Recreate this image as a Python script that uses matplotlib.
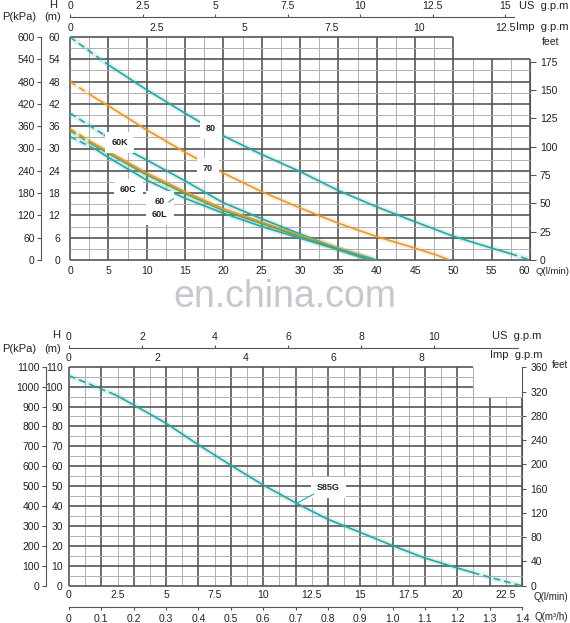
import numpy as np
import matplotlib.pyplot as plt

plt.rcParams['font.family'] = ['Liberation Sans', 'DejaVu Sans']
plt.rcParams['font.size'] = 7.5
plt.rcParams['text.color'] = '#222222'
plt.rcParams['xtick.color'] = '#222222'
plt.rcParams['ytick.color'] = '#222222'

# ---- upper chart: Q in l/min, H in m
q_80 = [0, 5, 10, 15, 20, 25, 30, 35, 40, 45, 50, 55, 57.5, 60]
h_80 = [60, 52.5, 45.8, 39.5, 33.4, 28.4, 23.8, 18.7, 14.3, 10.3, 6.4, 3.2, 1.7, 0]

q_70 = [0, 3, 5, 10, 15, 20, 25, 30, 35, 40, 45, 48, 49.5]
h_70 = [48, 44, 41.5, 35, 29, 23.4, 18.4, 14, 9.9, 6.3, 3.2, 1.2, 0]

q_60k = [0, 4.5, 7.5, 10, 15, 20, 25, 30, 35, 40]
h_60k = [39.5, 33.6, 29.6, 26.9, 21.3, 15.4, 11.1, 7.0, 3.0, 0]

q_60 = [0, 3, 5, 10, 15, 20, 25, 30, 35, 39.5]
h_60 = [35.3, 31.5, 29.2, 23.4, 18.4, 13.8, 10.2, 6.6, 3.2, 0]

q_60l = [0, 3, 5, 10, 15, 20, 25, 30, 35, 39.5]
h_60l = [34.8, 31.0, 28.7, 22.9, 17.9, 13.3, 9.8, 6.3, 3.0, 0]

q_60c = [0, 3.5, 5, 10, 15, 20, 25, 30, 35, 39]
h_60c = [33.2, 29.6, 27.6, 21.5, 16.6, 12.6, 9.0, 5.9, 2.8, 0]

us_ticks_1 = [0, 2.5, 5, 7.5, 10, 12.5, 15]
imp_ticks_1 = [0, 2.5, 5, 7.5, 10, 12.5]
feet_ticks_1 = [0, 25, 50, 75, 100, 125, 150, 175]

# ---- lower chart: S85G
q_s85g = [0, 2.4, 3.3, 5, 6.6, 8.3, 10, 11.7, 13.3, 15, 16.7, 18.3, 20, 20.8, 21.6, 23.3]
h_s85g = [105.5, 95.8, 91, 81.6, 71.2, 60.7, 50.6, 41.5, 33.5, 26.8, 20.0, 14.0, 8.9, 6.6, 4.4, 0]

us_ticks_2 = [0, 2, 4, 6, 8, 10]
imp_ticks_2 = [0, 2, 4, 6, 8]
feet_ticks_2 = [0, 40, 80, 120, 160, 200, 240, 280, 320, 360]
m3h_ticks = [0, 0.1, 0.2, 0.3, 0.4, 0.5, 0.6, 0.7, 0.8, 0.9, 1.0, 1.1, 1.2, 1.3, 1.4]

TEAL = '#2aa7a4'
ORANGE = '#e69a2e'
GREEN = '#64a35a'
DARK = '#555555'
LIGHT = '#b0b0b0'

W, H = 570, 623


def px(x, y):
    return x / W, 1 - y / H


def draw_grid(ax, xs, ys, xmax, ymax, blank_x, blank_y):
    for i, x in enumerate(xs):
        top = blank_y if x > blank_x + 1e-6 else ymax
        dark = i % 2 == 0
        ax.vlines(x, 0, top, color=DARK if dark else LIGHT, lw=1.2 if dark else 0.7,
                  zorder=1, clip_on=False)
    for j, y in enumerate(ys):
        right = blank_x if y > blank_y + 1e-6 else xmax
        dark = j % 2 == 0
        ax.hlines(y, 0, right, color=DARK if dark else LIGHT, lw=1.2 if dark else 0.7,
                  zorder=1, clip_on=False)


def plot_curve(ax, q, h, color, i0, i1):
    # dashed at both ends, solid between index i0 and i1
    ax.plot(q, h, color=color, lw=4, alpha=0.15, zorder=2, solid_capstyle='butt')
    ax.plot(q[:i0 + 1], h[:i0 + 1], color=color, lw=1.2, ls=(0, (4, 2.5)), zorder=2.2)
    ax.plot(q[i0:i1 + 1], h[i0:i1 + 1], color=color, lw=1.2, zorder=2.2)
    if i1 < len(q) - 1:
        ax.plot(q[i1:], h[i1:], color=color, lw=1.2, ls=(0, (4, 2.5)), zorder=2.2)


fig = plt.figure(figsize=(W / 100, H / 100), dpi=100)

# =================== upper chart ===================
ax1 = fig.add_axes([70 / W, 1 - 260 / H, 460 / W, 223 / H])
ax1.set_xlim(0, 60)
ax1.set_ylim(0, 60)
for s in ax1.spines.values():
    s.set_visible(False)
draw_grid(ax1, np.arange(0, 60.01, 2.5), np.arange(0, 60.01, 3), 60, 60, 50, 54)

plot_curve(ax1, q_80, h_80, TEAL, 1, 12)
plot_curve(ax1, q_70, h_70, ORANGE, 1, len(q_70) - 1)
plot_curve(ax1, q_60k, h_60k, TEAL, 1, len(q_60k) - 1)
plot_curve(ax1, q_60, h_60, ORANGE, 1, len(q_60) - 1)
plot_curve(ax1, q_60l, h_60l, GREEN, 1, len(q_60l) - 1)
plot_curve(ax1, q_60c, h_60c, TEAL, 1, len(q_60c) - 1)

lbl = dict(fontsize=6.5, fontweight='bold', ha='center', va='center', zorder=4,
           bbox=dict(fc='white', ec='none', pad=4.5))
ax1.text(18.4, 35.5, '80', **lbl)
ax1.text(18.0, 24.5, '70', **lbl)
ax1.text(6.5, 31.6, '60K', **lbl)
ax1.text(7.6, 19.0, '60C', **lbl)
ax1.text(11.7, 14.0, '60\n60L', linespacing=1.5, **lbl)
ax1.plot([12.9, 13.5], [15.6, 16.5], color=TEAL, lw=0.8, zorder=5)

ax1.set_xticks(range(0, 61, 5))
ax1.set_yticks(range(0, 61, 6))
ax1.tick_params(axis='x', length=0, pad=4)
ax1.tick_params(axis='y', length=0, pad=7)
ax1.get_xticklabels()[-1].set_ha('right')

kpa1 = ax1.secondary_yaxis(-0.063, functions=(lambda h: h * 10, lambda p: p / 10))
kpa1.set_yticks(range(0, 601, 60))
kpa1.tick_params(length=3, pad=1.5, color=DARK)
kpa1.spines['left'].set_color(DARK)

ft1 = ax1.secondary_yaxis('right', functions=(lambda h: h * 3.281, lambda f: f / 3.281))
ft1.set_yticks(feet_ticks_1)
ft1.tick_params(length=4, pad=3, color=DARK)
ft1.spines['right'].set_color(DARK)
ft1.spines['right'].set_bounds(0, 175)

imp1 = ax1.secondary_xaxis(1.0, functions=(lambda q: q / 4.546, lambda g: g * 4.546))
imp1.set_xticks(imp_ticks_1)
imp1.set_xticklabels(['0', '2.5', '5', '7.5', '10', '12.5'])
imp1.spines['top'].set_visible(False)
imp1.tick_params(length=0, pad=3)

us1 = ax1.secondary_xaxis(1.09, functions=(lambda q: q / 3.785, lambda g: g * 3.785))
us1.set_xticks(us_ticks_1)
us1.set_xticklabels(['0', '2.5', '5', '7.5', '10', '12.5', '15'])
us1.spines['top'].set_color(DARK)
us1.spines['top'].set_bounds(0, 15.3)
us1.tick_params(length=2.5, pad=2, color=DARK)

fig.text(*px(2, 17), 'P(kPa)', fontsize=8, ha='left', va='center')
fig.text(*px(53, 5), 'H', fontsize=8, ha='center', va='center')
fig.text(*px(53, 17), '(m)', fontsize=8, ha='center', va='center')
fig.text(*px(568, 6), 'US  g.p.m', fontsize=8, ha='right', va='center')
fig.text(*px(568, 27), 'Imp  g.p.m', fontsize=8, ha='right', va='center')
fig.text(*px(542, 42), 'feet', fontsize=7.5, ha='left', va='center')
fig.text(*px(569, 271), 'Q(l/min)', fontsize=6.8, ha='right', va='center')

# watermark
fig.text(*px(285, 297), 'en.china.com', fontsize=27, color='#c5c8cc', ha='center', va='center')

# =================== lower chart ===================
QMAX = 1.4 / 0.06
ax2 = fig.add_axes([69 / W, 1 - 585.7 / H, 453 / W, 219 / H])
ax2.set_xlim(0, QMAX)
ax2.set_ylim(0, 110)
for s in ax2.spines.values():
    s.set_visible(False)
draw_grid(ax2, np.arange(0, 29) * 0.05 / 0.06, np.arange(0, 111, 5), QMAX, 110,
          1.25 / 0.06, 95)

plot_curve(ax2, q_s85g, h_s85g, TEAL, 1, 13)
ax2.text(13.35, 49.2, 'S85G', **lbl)
ax2.plot([11.75, 12.6], [41.5, 46.0], color=TEAL, lw=0.8, zorder=5)

ax2.set_xticks([0, 2.5, 5, 7.5, 10, 12.5, 15, 17.5, 20, 22.5])
ax2.set_xticklabels(['0', '2.5', '5', '7.5', '10', '12.5', '15', '17.5', '20', '22.5'])
ax2.set_yticks(range(0, 111, 10))
ax2.tick_params(axis='x', length=0, pad=3)
ax2.tick_params(axis='y', length=0, pad=4.5)

kpa2 = ax2.secondary_yaxis(-0.0508, functions=(lambda h: h * 10, lambda p: p / 10))
kpa2.set_yticks(range(0, 1101, 100))
kpa2.tick_params(length=3, pad=1.5, color=DARK)
kpa2.spines['left'].set_color(DARK)

ft2 = ax2.secondary_yaxis('right', functions=(lambda h: h * 3.281, lambda f: f / 3.281))
ft2.set_yticks(feet_ticks_2)
ft2.tick_params(length=3, pad=3, color=DARK)
ft2.spines['right'].set_color(DARK)
ft2.spines['right'].set_bounds(0, 360)

m3 = ax2.secondary_xaxis(-0.097, functions=(lambda q: q * 0.06, lambda m: m / 0.06))
m3.set_xticks(m3h_ticks)
m3.set_xticklabels(['0'] + ['%.1f' % v for v in m3h_ticks[1:]])
m3.spines['bottom'].set_color(DARK)
m3.tick_params(length=2.5, pad=2.5, color=DARK)

imp2 = ax2.secondary_xaxis(1.0, functions=(lambda q: q / 2.27, lambda g: g * 2.27))
imp2.set_xticks(imp_ticks_2)
imp2.spines['top'].set_visible(False)
imp2.tick_params(length=0, pad=3)

us2 = ax2.secondary_xaxis(1.085, functions=(lambda q: q / 1.88, lambda g: g * 1.88))
us2.set_xticks(us_ticks_2)
us2.spines['top'].set_color(DARK)
us2.spines['top'].set_bounds(0, 12.3)
us2.tick_params(length=2.5, pad=2, color=DARK)

fig.text(*px(2, 349), 'P(kPa)', fontsize=8, ha='left', va='center')
fig.text(*px(56, 335), 'H', fontsize=8, ha='center', va='center')
fig.text(*px(53, 349), '(m)', fontsize=8, ha='center', va='center')
fig.text(*px(492, 336), 'US  g.p.m', fontsize=8, ha='left', va='center')
fig.text(*px(490, 355), 'Imp  g.p.m', fontsize=8, ha='left', va='center')
fig.text(*px(568, 365), 'feet', fontsize=7, ha='right', va='center')
fig.text(*px(568, 597), 'Q(l/min)', fontsize=7, ha='right', va='center')
fig.text(*px(568, 617), 'Q(m³/h)', fontsize=7, ha='right', va='center')

fig.savefig('out.png', dpi=100)
